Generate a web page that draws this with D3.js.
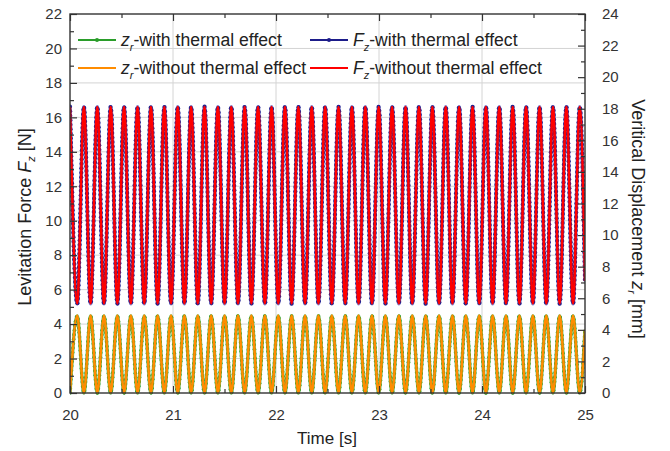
<!DOCTYPE html>
<html><head><meta charset="utf-8">
<script src="https://cdn.jsdelivr.net/npm/d3@7"></script>
<style>body{margin:0;background:#fff}svg{display:block}text{font-family:"Liberation Sans",Arial,sans-serif}</style>
</head><body>
<svg id="c" width="670" height="451"></svg>
<script>
// Extremum times (peaks of Fz / troughs of zr alternate)
const extremaTime = [20.000,20.070,20.135,20.200,20.265,20.330,20.395,20.460,20.525,20.591,
20.656,20.721,20.786,20.851,20.916,20.981,21.046,21.111,21.176,21.241,
21.306,21.371,21.436,21.501,21.566,21.631,21.696,21.761,21.826,21.892,
21.957,22.022,22.087,22.152,22.217,22.282,22.347,22.412,22.477,22.542,
22.607,22.672,22.737,22.802,22.867,22.932,22.997,23.062,23.127,23.193,
23.258,23.323,23.388,23.453,23.518,23.583,23.648,23.713,23.778,23.843,
23.908,23.973,24.038,24.103,24.168,24.233,24.298,24.363,24.428,24.494,
24.559,24.624,24.689,24.754,24.819,24.884,24.949,25.000];
const fzWith = [16.62,5.18,16.62,5.18,16.62,5.18,16.62,5.18,16.62,5.18,
16.62,5.18,16.62,5.18,16.62,5.18,16.62,5.18,16.62,5.18,
16.62,5.18,16.62,5.18,16.62,5.18,16.62,5.18,16.62,5.18,
16.62,5.18,16.62,5.18,16.62,5.18,16.62,5.18,16.62,5.18,
16.62,5.18,16.62,5.18,16.62,5.18,16.62,5.18,16.62,5.18,
16.62,5.18,16.62,5.18,16.62,5.18,16.62,5.18,16.62,5.18,
16.62,5.18,16.62,5.18,16.62,5.18,16.62,5.18,16.62,5.18,
16.62,5.18,16.62,5.18,16.62,5.18,16.62,6.5];
const fzWithout = [16.6,5.2,16.6,5.2,16.6,5.2,16.6,5.2,16.6,5.2,
16.6,5.2,16.6,5.2,16.6,5.2,16.6,5.2,16.6,5.2,
16.6,5.2,16.6,5.2,16.6,5.2,16.6,5.2,16.6,5.2,
16.6,5.2,16.6,5.2,16.6,5.2,16.6,5.2,16.6,5.2,
16.6,5.2,16.6,5.2,16.6,5.2,16.6,5.2,16.6,5.2,
16.6,5.2,16.6,5.2,16.6,5.2,16.6,5.2,16.6,5.2,
16.6,5.2,16.6,5.2,16.6,5.2,16.6,5.2,16.6,5.2,
16.6,5.2,16.6,5.2,16.6,5.2,16.6,6.5];
const zrWith = [0,4.88,0,4.88,0,4.88,0,4.88,0,4.88,
0,4.88,0,4.88,0,4.88,0,4.88,0,4.88,
0,4.88,0,4.88,0,4.88,0,4.88,0,4.88,
0,4.88,0,4.88,0,4.88,0,4.88,0,4.88,
0,4.88,0,4.88,0,4.88,0,4.88,0,4.88,
0,4.88,0,4.88,0,4.88,0,4.88,0,4.88,
0,4.88,0,4.88,0,4.88,0,4.88,0,4.88,
0,4.88,0,4.88,0,4.88,0,4.0];
const zrWithout = [0,4.9,0,4.9,0,4.9,0,4.9,0,4.9,
0,4.9,0,4.9,0,4.9,0,4.9,0,4.9,
0,4.9,0,4.9,0,4.9,0,4.9,0,4.9,
0,4.9,0,4.9,0,4.9,0,4.9,0,4.9,
0,4.9,0,4.9,0,4.9,0,4.9,0,4.9,
0,4.9,0,4.9,0,4.9,0,4.9,0,4.9,
0,4.9,0,4.9,0,4.9,0,4.9,0,4.9,
0,4.9,0,4.9,0,4.9,0,4.0];
const xTicks = [20,21,22,23,24,25];
const yLeftTicks = [0,2,4,6,8,10,12,14,16,18,20,22];
const yRightTicks = [0,2,4,6,8,10,12,14,16,18,20,22,24];

const svg = d3.select("#c");
const L = 70, R = 585, T = 14, B = 393;
const x = d3.scaleLinear([20,25],[L,R]);
const yL = d3.scaleLinear([0,22],[B,T]);
const yR = d3.scaleLinear([0,24],[B,T]);
const tickCol = "#333";

svg.append("defs").append("clipPath").attr("id","clip")
  .append("rect").attr("x",L).attr("y",T-2).attr("width",R-L).attr("height",B-T+4);

// grid
const grid = svg.append("g").attr("stroke","#d4d4d4").attr("stroke-width",1);
yLeftTicks.forEach(v=>{ if(v>0&&v<22) grid.append("line").attr("x1",L).attr("x2",R).attr("y1",yL(v)).attr("y2",yL(v)); });
xTicks.forEach(v=>{ if(v>20&&v<25) grid.append("line").attr("y1",T).attr("y2",B).attr("x1",x(v)).attr("x2",x(v)); });

// series
const plot = svg.append("g").attr("clip-path","url(#clip)");
function mk(ys, yscale){
  return d3.line().x((d,i)=>x(extremaTime[i])).y(d=>yscale(d)).curve(d3.curveMonotoneX)(ys);
}
function dots(path, step, r, col){
  const n = path.node(), len = n.getTotalLength();
  const g = plot.append("g").attr("fill",col);
  for(let s=0;s<=len;s+=step){ const p=n.getPointAtLength(s); g.append("circle").attr("cx",p.x).attr("cy",p.y).attr("r",r); }
}
const zg = plot.append("path").attr("d",mk(zrWith,yR)).attr("fill","none").attr("stroke","#6cc06c").attr("stroke-width",3.4);
dots(zg,4.5,1.8,"#2a9d2a");
plot.append("path").attr("d",mk(zrWithout,yR)).attr("fill","none").attr("stroke","#ff8c00").attr("stroke-width",2.5);
const fb = plot.append("path").attr("d",mk(fzWith,yL)).attr("fill","none").attr("stroke","#8a8ad0").attr("stroke-width",3.6);
dots(fb,4.5,2.1,"#22228f");
plot.append("path").attr("d",mk(fzWithout,yL)).attr("fill","none").attr("stroke","#ff0000").attr("stroke-width",2.5);

// axes
const axG = svg.append("g");
const gl = axG.append("g").attr("transform",`translate(${L},0)`)
  .call(d3.axisLeft(yL).tickValues(yLeftTicks).tickSize(-7).tickPadding(15).tickFormat(d3.format("d")));
gl.append("g").call(d3.axisLeft(yL).tickValues(d3.range(1,22,2)).tickSize(-4).tickFormat(""));
const gr = axG.append("g").attr("transform",`translate(${R},0)`)
  .call(d3.axisRight(yR).tickValues(yRightTicks).tickSize(-7).tickPadding(17).tickFormat(d3.format("d")));
gr.append("g").call(d3.axisRight(yR).tickValues(d3.range(1,24,2)).tickSize(-4).tickFormat(""));
const gb = axG.append("g").attr("transform",`translate(0,${B})`)
  .call(d3.axisBottom(x).tickValues(xTicks).tickSize(-7).tickPadding(16).tickFormat(d3.format("d")));
gb.append("g").call(d3.axisBottom(x).tickValues([20.5,21.5,22.5,23.5,24.5]).tickSize(-4).tickFormat(""));
const gt = axG.append("g").attr("transform",`translate(0,${T})`)
  .call(d3.axisTop(x).tickValues(xTicks).tickSize(-7).tickFormat(""));
gt.append("g").call(d3.axisTop(x).tickValues([20.5,21.5,22.5,23.5,24.5]).tickSize(-4).tickFormat(""));
axG.selectAll(".domain").remove();
axG.selectAll(".tick line").attr("stroke",tickCol).attr("stroke-width",1.2);
axG.selectAll(".tick text").attr("fill","#333").attr("font-size",15).attr("font-family","Liberation Sans, Arial, sans-serif");
gl.selectAll(".tick text").attr("dx",7);
svg.append("rect").attr("x",L).attr("y",T).attr("width",R-L).attr("height",B-T)
  .attr("fill","none").attr("stroke","#333").attr("stroke-width",1.4);

// axis titles
const t1 = svg.append("text").attr("transform","translate(31,217) rotate(-90)").attr("text-anchor","middle")
  .attr("font-size",18).attr("fill","#222");
t1.append("tspan").text("Levitation Force ");
t1.append("tspan").attr("font-style","italic").text("F");
t1.append("tspan").attr("font-style","italic").attr("font-size",11).attr("dy",4).text("z");
t1.append("tspan").attr("dy",-4).text(" [N]");
const t2 = svg.append("text").attr("transform","translate(632,219) rotate(90)").attr("text-anchor","middle")
  .attr("font-size",18).attr("fill","#222");
t2.append("tspan").text("Veritical Displacement ");
t2.append("tspan").attr("font-style","italic").text("z");
t2.append("tspan").attr("font-style","italic").attr("font-size",11).attr("dy",4).text("r");
t2.append("tspan").attr("dy",-4).text(" [mm]");
svg.append("text").attr("x",327).attr("y",444).attr("text-anchor","middle").attr("font-size",17).attr("fill","#222").text("Time [s]");

// legend
const legend = [
  {sym:"z", sub:"r", rest:"-with thermal effect", col:"#2a9d2a", dot:true, lx:78, ly:40},
  {sym:"F", sub:"z", rest:"-with thermal effect", col:"#1c1c8a", dot:true, lx:310, ly:40},
  {sym:"z", sub:"r", rest:"-without thermal effect", col:"#ff8c00", dot:false, lx:78, ly:68},
  {sym:"F", sub:"z", rest:"-without thermal effect", col:"#ff0000", dot:false, lx:310, ly:68}
];
legend.forEach(d=>{
  const g = svg.append("g");
  g.append("line").attr("x1",d.lx).attr("x2",d.lx+38).attr("y1",d.ly).attr("y2",d.ly).attr("stroke",d.col).attr("stroke-width",2);
  if(d.dot) g.append("circle").attr("cx",d.lx+19).attr("cy",d.ly).attr("r",2).attr("fill",d.col);
  const t = g.append("text").attr("x",d.lx+43).attr("y",d.ly+6).attr("font-size",17.6).attr("fill","#222");
  t.append("tspan").attr("font-style","italic").text(d.sym);
  t.append("tspan").attr("font-style","italic").attr("font-size",11).attr("dy",5).text(d.sub);
  t.append("tspan").attr("dy",-5).text(d.rest);
});
</script>
</body></html>
